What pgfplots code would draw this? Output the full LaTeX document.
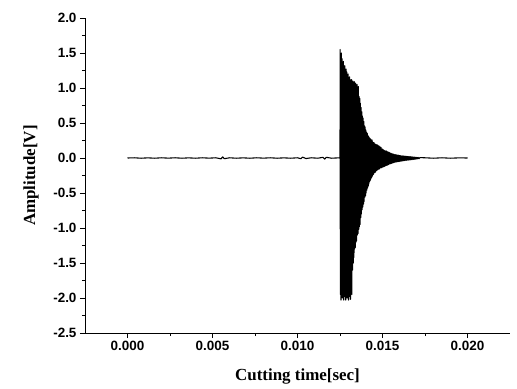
\documentclass[border=0pt]{standalone}
\usepackage{fontspec}
\setmainfont{Liberation Serif}
\setsansfont{Liberation Sans}
\usepackage{pgfplots}
\usepackage{pgfplotstable}
\pgfplotsset{compat=1.18}
\pgfplotstableread{
t v
0.0000 0.000
0.0004 0.003
0.0008 -0.003
0.0012 0.002
0.0016 -0.003
0.0020 0.003
0.0024 -0.002
0.0028 0.003
0.0032 -0.003
0.0036 0.002
0.0040 -0.003
0.0044 0.003
0.0048 -0.002
0.0052 0.003
0.0055 -0.012
0.0056 0.015
0.0057 -0.010
0.0060 0.003
0.0064 -0.003
0.0068 0.002
0.0072 -0.003
0.0076 0.003
0.0080 -0.002
0.0084 0.003
0.0088 -0.003
0.0092 0.002
0.0096 -0.003
0.0100 0.003
0.0102 -0.010
0.0103 0.012
0.0105 -0.008
0.0108 0.003
0.0112 -0.003
0.0115 0.010
0.0116 -0.015
0.0117 0.010
0.0120 -0.003
0.0124 0.002
0.01250 0.00
0.01251 1.55
0.01252 -1.95
0.01254 1.45
0.01256 -2.03
0.01258 1.50
0.01260 -1.80
0.01262 1.42
0.01264 -2.00
0.01266 1.30
0.01268 -1.90
0.01270 1.38
0.01272 -2.03
0.01274 1.25
0.01276 -1.85
0.01278 1.32
0.01280 -1.98
0.01282 1.20
0.01284 -2.03
0.01286 1.27
0.01288 -1.75
0.01290 1.23
0.01292 -2.00
0.01294 1.10
0.01296 -1.92
0.01298 1.20
0.01300 -2.03
0.01302 1.05
0.01304 -1.88
0.01306 1.16
0.01308 -1.98
0.01310 1.12
0.01312 -2.02
0.01314 0.98
0.01316 -1.80
0.01318 1.12
0.01320 -1.95
0.01322 1.05
0.01324 -1.60
0.01326 1.10
0.01328 -1.50
0.01330 0.95
0.01332 -1.42
0.01334 1.09
0.01336 -1.30
0.01338 0.96
0.01340 -1.28
0.01342 1.07
0.01344 -1.20
0.01346 0.92
0.01348 -1.18
0.01350 1.05
0.01352 -1.10
0.01354 0.90
0.01356 -1.08
0.01358 1.02
0.01360 -1.02
0.01362 0.88
0.01364 -0.98
0.01366 0.85
0.01368 -0.95
0.01370 0.78
0.01372 -0.85
0.01374 0.72
0.01376 -0.80
0.01378 0.66
0.01380 -0.74
0.01382 0.60
0.01384 -0.70
0.01386 0.57
0.01388 -0.66
0.01390 0.52
0.01392 -0.62
0.01394 0.46
0.01396 -0.56
0.01398 0.44
0.01400 -0.54
0.01402 0.40
0.01404 -0.50
0.01406 0.37
0.01408 -0.46
0.01410 0.35
0.01412 -0.43
0.01414 0.32
0.01416 -0.40
0.01418 0.31
0.01420 -0.37
0.01422 0.29
0.01424 -0.34
0.01426 0.28
0.01428 -0.32
0.01430 0.27
0.01432 -0.30
0.01434 0.25
0.01436 -0.28
0.01438 0.26
0.01440 -0.26
0.01442 0.23
0.01444 -0.24
0.01446 0.22
0.01448 -0.23
0.01450 0.22
0.01453 -0.21
0.01456 0.20
0.01459 -0.20
0.01462 0.19
0.01465 -0.18
0.01468 0.19
0.01471 -0.17
0.01474 0.18
0.01477 -0.16
0.01480 0.17
0.01483 -0.155
0.01486 0.16
0.01489 -0.14
0.01492 0.15
0.01495 -0.14
0.01498 0.13
0.01501 -0.13
0.01504 0.12
0.01507 -0.125
0.01510 0.11
0.01513 -0.12
0.01516 0.10
0.01519 -0.11
0.01522 0.10
0.01525 -0.105
0.01528 0.09
0.01531 -0.10
0.01534 0.085
0.01537 -0.09
0.01540 0.08
0.01543 -0.085
0.01546 0.07
0.01549 -0.08
0.01552 0.065
0.01555 -0.075
0.01558 0.06
0.01561 -0.07
0.01564 0.055
0.01567 -0.065
0.01570 0.05
0.01573 -0.06
0.01576 0.048
0.01579 -0.058
0.01582 0.045
0.01585 -0.055
0.01588 0.042
0.01591 -0.052
0.01594 0.04
0.01597 -0.05
0.01600 0.035
0.01603 -0.048
0.01606 0.033
0.01609 -0.045
0.01612 0.03
0.01615 -0.042
0.01618 0.03
0.01621 -0.04
0.01624 0.028
0.01627 -0.038
0.01630 0.026
0.01633 -0.035
0.01636 0.025
0.01639 -0.033
0.01642 0.023
0.01645 -0.031
0.01648 0.021
0.01651 -0.03
0.01654 0.02
0.01657 -0.028
0.01660 0.019
0.01663 -0.026
0.01666 0.018
0.01669 -0.024
0.01672 0.016
0.01675 -0.022
0.01678 0.015
0.01681 -0.02
0.01684 0.013
0.01687 -0.018
0.01690 0.012
0.01693 -0.016
0.01696 0.01
0.01699 -0.014
0.01702 0.009
0.01706 -0.012
0.01710 0.008
0.01715 -0.01
0.01720 0.006
0.0175 0.003
0.0180 -0.003
0.0185 0.003
0.0190 -0.003
0.0195 0.002
0.0200 0.000
}\signal
\begin{document}
\begin{tikzpicture}
\useasboundingbox (-85bp,-56bp) rectangle (432bp,333bp);
\begin{axis}[
  at={(0,0)}, anchor=south west,
  scale only axis, width=425bp, height=315bp,
  xmin=-0.0025, xmax=0.0225, ymin=-2.5, ymax=2.0,
  clip=false,
  axis lines=left, axis line style={-, line width=1pt},
  tick align=outside, major tick length=5bp, minor tick length=3bp,
  every tick/.style={line width=1pt, black},
  xtick={0,0.005,0.01,0.015,0.02},
  ytick={-2.5,-2,-1.5,-1,-0.5,0,0.5,1,1.5,2},
  minor x tick num=1, minor y tick num=1,
  scaled x ticks=false, scaled y ticks=false,
  xticklabel style={/pgf/number format/.cd, fixed, fixed zerofill, precision=3},
  yticklabel style={/pgf/number format/.cd, fixed, fixed zerofill, precision=1},
  /pgf/number format/assume math mode=true,
  tick label style={font=\fontsize{13.5}{13.5}\selectfont\sffamily\bfseries},
  xlabel={Cutting time[sec]}, ylabel={Amplitude[V]},
  xlabel style={at={(axis description cs:0.5,0)}, anchor=base, yshift=-47bp, font=\fontsize{17}{17}\selectfont\bfseries},
  ylabel style={at={(axis description cs:-0.1176,0.5)}, anchor=base, font=\fontsize{17}{17}\selectfont\bfseries},
]
\addplot[black, line width=1.1pt, line join=round] table[x=t, y=v] {\signal};
\end{axis}
\end{tikzpicture}
\end{document}
